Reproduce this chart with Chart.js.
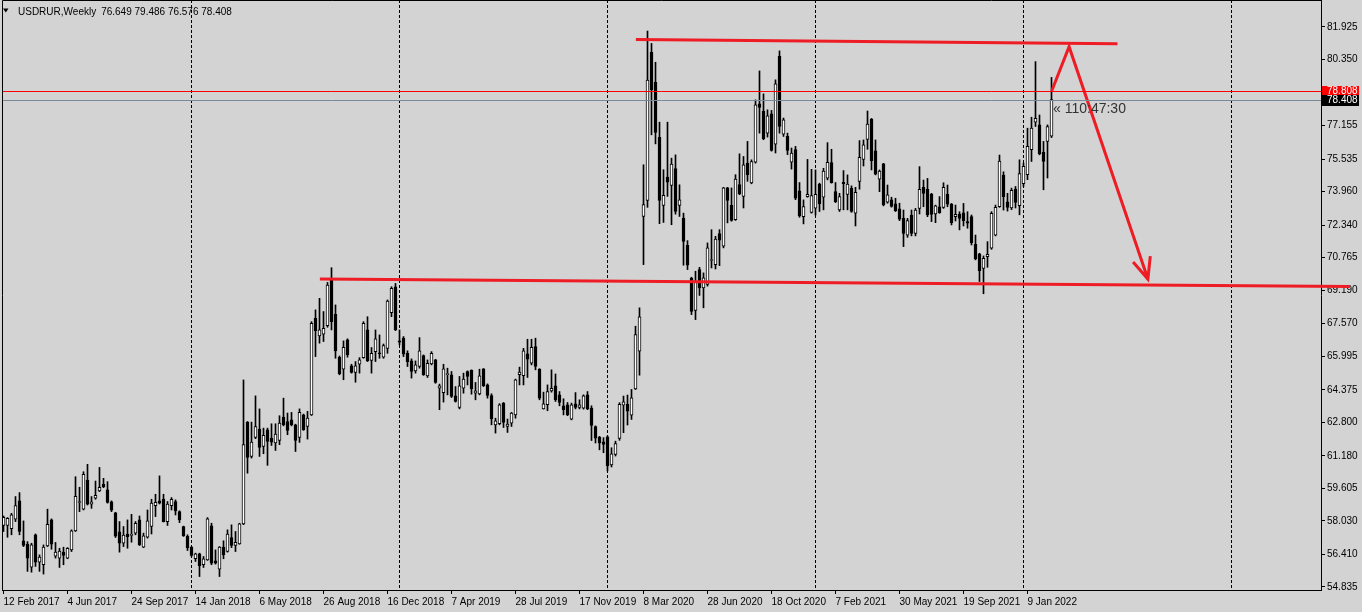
<!DOCTYPE html>
<html>
<head>
<meta charset="utf-8">
<script src="https://cdn.jsdelivr.net/npm/chart.js@4.4.1/dist/chart.umd.min.js"></script>
<style>
  html, body { margin: 0; padding: 0; background: #d3d3d3; }
  #wrap { position: relative; width: 1362px; height: 612px; }
</style>
</head>
<body>
<div id="wrap"><canvas id="chart1"></canvas></div>
<script>
// USDRUR weekly candles, one entry per week starting 12 Feb 2017
var opens = [
  57.81, 57.81, 57.65, 58.11, 59.00, 57.07, 56.91, 55.79, 57.36, 56.04,
  55.91, 56.82, 58.08, 56.33, 56.23, 56.52, 56.23, 56.63, 57.55, 58.92,
  58.60, 60.01, 58.84, 59.13, 59.48, 59.80, 59.53, 58.95, 58.42, 57.50,
  56.95, 57.40, 57.33, 57.44, 58.08, 56.76, 57.24, 57.76, 58.77, 59.00,
  59.09, 58.00, 58.77, 58.97, 58.48, 57.76, 57.28, 56.76, 56.20, 56.44,
  55.91, 56.15, 57.79, 56.10, 55.70, 56.76, 56.55, 57.23, 56.84, 56.92,
  57.89, 62.81, 61.15, 62.07, 62.47, 61.64, 62.44, 62.04, 61.80, 61.93,
  63.05, 62.84, 62.92, 62.68, 62.07, 63.16, 62.60, 63.16, 67.83, 66.98,
  67.06, 67.48, 69.69, 68.03, 65.95, 65.37, 66.79, 65.53, 65.21, 65.61,
  65.93, 67.27, 65.79, 66.22, 66.14, 65.95, 66.38, 68.11, 69.36, 66.74,
  66.87, 66.14, 65.77, 65.29, 65.50, 66.03, 65.05, 65.63, 65.82, 64.45,
  64.24, 65.10, 65.10, 64.08, 63.52, 64.45, 65.26, 65.31, 64.21, 64.18,
  65.39, 64.61, 64.10, 62.68, 62.73, 63.73, 62.60, 62.76, 63.16, 65.10,
  65.06, 66.11, 65.66, 66.46, 65.37, 63.45, 63.65, 64.32, 64.57, 64.13,
  63.60, 63.65, 62.95, 63.70, 63.52, 63.49, 64.13, 63.49, 62.60, 62.09,
  61.86, 62.10, 60.74, 61.25, 62.02, 63.63, 63.67, 63.15, 64.42, 66.24,
  72.76, 73.54, 80.70, 79.25, 76.59, 73.29, 74.66, 74.26, 75.07, 73.29,
  72.68, 71.36, 69.78, 68.22, 70.19, 69.30, 69.47, 70.63, 70.43, 71.93,
  71.32, 74.14, 73.30, 72.61, 74.30, 73.73, 75.34, 74.38, 75.38, 78.21,
  77.84, 76.79, 77.73, 76.26, 80.50, 76.74, 76.63, 75.39, 75.99, 74.00,
  72.75, 73.72, 72.95, 73.16, 74.32, 73.69, 74.61, 75.36, 73.96, 73.08,
  74.41, 73.83, 74.12, 72.92, 74.45, 75.52, 76.49, 77.47, 75.94, 74.56,
  75.30, 73.45, 73.56, 73.37, 73.13, 72.67, 71.86, 72.83, 71.94, 73.15,
  74.17, 74.07, 73.84, 72.88, 73.23, 73.20, 73.84, 73.36, 72.75, 72.88,
  72.94, 72.51, 72.75, 71.41, 70.95, 70.25, 70.82, 71.22, 71.86, 73.23,
  74.76, 73.47, 73.17, 74.08, 73.28, 74.34, 74.78, 75.99, 77.32, 77.19,
  75.86, 76.39, 76.649
];
var highs = [
  58.27, 58.19, 58.40, 59.21, 59.40, 58.03, 57.03, 56.95, 57.40, 56.39,
  56.87, 58.60, 58.13, 56.99, 56.71, 56.76, 56.74, 57.60, 60.17, 59.66,
  60.41, 60.77, 59.21, 59.96, 60.62, 60.09, 59.93, 59.00, 58.45, 58.00,
  57.76, 58.08, 58.35, 58.00, 58.27, 57.44, 58.56, 59.08, 59.32, 60.21,
  59.32, 58.97, 59.16, 59.05, 58.52, 57.78, 57.36, 56.79, 56.47, 56.47,
  56.31, 58.19, 57.92, 56.63, 56.79, 57.07, 57.60, 57.84, 57.52, 57.92,
  64.85, 62.84, 62.81, 64.08, 63.45, 62.52, 62.52, 62.73, 62.73, 63.12,
  63.97, 63.25, 63.28, 62.71, 63.45, 63.20, 63.33, 67.67, 68.24, 68.80,
  68.16, 69.57, 70.28, 68.48, 66.01, 66.74, 66.84, 65.61, 65.74, 65.93,
  67.67, 67.91, 66.42, 67.27, 67.03, 66.59, 68.72, 69.36, 69.52, 67.27,
  66.95, 66.26, 65.87, 65.77, 66.90, 66.06, 65.82, 66.22, 65.85, 64.65,
  65.61, 65.42, 65.26, 64.53, 65.02, 65.18, 65.29, 65.34, 64.73, 65.37,
  65.40, 64.66, 64.18, 63.00, 63.70, 63.76, 62.96, 63.28, 64.89, 65.47,
  66.38, 66.82, 66.82, 66.87, 65.40, 64.26, 64.61, 65.34, 65.14, 64.29,
  63.94, 63.76, 63.73, 64.24, 63.89, 64.13, 64.29, 63.60, 62.63, 62.12,
  62.06, 62.14, 61.57, 61.89, 63.75, 64.07, 64.12, 64.39, 67.45, 68.34,
  75.26, 81.73, 81.13, 80.22, 77.32, 75.02, 77.32, 75.58, 75.74, 74.29,
  72.92, 71.59, 69.82, 70.11, 70.30, 70.03, 71.48, 72.12, 71.80, 72.12,
  74.17, 74.17, 74.14, 74.78, 75.79, 75.66, 76.39, 75.50, 78.40, 79.80,
  78.69, 77.92, 77.89, 79.37, 80.77, 77.52, 76.79, 76.07, 76.15, 74.40,
  73.56, 75.52, 75.04, 75.01, 74.37, 75.09, 76.33, 76.01, 74.40, 73.88,
  74.98, 74.77, 74.24, 74.17, 76.43, 76.46, 77.86, 77.50, 76.46, 75.01,
  75.33, 74.28, 73.69, 73.64, 73.40, 73.07, 72.67, 73.07, 73.15, 75.17,
  74.52, 74.60, 73.88, 73.31, 73.72, 74.39, 74.28, 73.39, 73.31, 72.99,
  73.39, 72.99, 72.83, 71.86, 70.98, 70.85, 71.54, 72.99, 73.31, 75.73,
  74.92, 73.88, 74.13, 74.21, 75.50, 75.34, 77.03, 77.56, 80.25, 77.67,
  76.39, 77.19, 79.486
];
var lows = [
  57.52, 57.24, 57.36, 58.00, 57.36, 56.79, 55.59, 55.55, 55.83, 55.59,
  55.46, 56.79, 56.66, 56.23, 55.78, 55.91, 56.20, 56.55, 57.52, 58.48,
  58.56, 58.80, 58.64, 59.08, 59.45, 59.64, 58.89, 58.48, 57.23, 56.52,
  56.79, 56.71, 57.00, 57.36, 56.84, 56.74, 57.20, 57.40, 58.24, 58.85,
  57.98, 57.81, 58.56, 58.32, 57.95, 57.28, 56.60, 56.31, 56.07, 55.34,
  55.78, 56.12, 55.91, 55.94, 55.34, 56.20, 56.52, 56.74, 56.55, 56.90,
  57.85, 60.34, 61.07, 62.01, 61.15, 61.28, 60.72, 61.68, 61.44, 61.72,
  62.63, 62.20, 62.63, 61.39, 61.83, 62.41, 61.99, 63.13, 65.98, 66.63,
  66.71, 67.40, 67.27, 65.90, 65.10, 64.86, 65.95, 65.18, 64.74, 65.18,
  65.90, 65.74, 65.18, 65.74, 65.90, 65.90, 66.14, 67.91, 67.24, 66.55,
  65.98, 65.50, 64.94, 65.18, 65.42, 65.07, 64.97, 65.58, 64.69, 63.41,
  63.78, 64.13, 64.00, 63.78, 63.45, 64.21, 64.61, 64.16, 63.89, 64.13,
  64.53, 63.97, 62.68, 62.28, 62.68, 62.55, 62.31, 62.60, 63.00, 64.61,
  64.61, 64.97, 65.58, 65.34, 63.89, 63.44, 63.36, 64.26, 63.81, 63.60,
  63.16, 63.12, 62.92, 63.45, 63.45, 63.44, 63.41, 61.92, 61.80, 61.47,
  61.33, 60.45, 60.64, 61.17, 61.93, 62.30, 62.67, 62.94, 64.39, 65.08,
  70.43, 73.20, 76.71, 76.27, 72.41, 72.47, 73.73, 72.36, 72.87, 72.76,
  70.40, 70.19, 68.01, 67.77, 68.94, 68.34, 69.39, 70.27, 70.22, 70.38,
  71.24, 72.45, 72.53, 72.57, 73.81, 73.17, 74.46, 74.34, 75.34, 76.79,
  76.47, 76.60, 75.92, 75.83, 76.79, 76.63, 75.75, 75.05, 73.57, 72.72,
  72.40, 73.69, 72.92, 72.83, 73.00, 73.08, 74.53, 74.37, 73.43, 73.00,
  73.08, 73.08, 72.96, 72.30, 74.08, 75.20, 76.01, 75.01, 74.77, 73.96,
  73.27, 73.40, 73.21, 73.00, 72.56, 71.30, 71.75, 71.82, 71.82, 72.88,
  73.23, 72.75, 72.51, 72.46, 72.91, 73.15, 73.23, 72.35, 72.54, 72.11,
  72.30, 72.19, 71.38, 70.66, 69.61, 69.02, 70.30, 71.17, 71.82, 73.20,
  73.07, 73.02, 73.09, 73.17, 72.84, 74.21, 74.54, 75.42, 77.11, 75.74,
  74.05, 74.62, 76.576
];
var closes = [
  58.21, 58.16, 58.32, 58.77, 57.52, 56.84, 56.23, 56.87, 56.04, 56.28,
  56.76, 57.87, 56.91, 56.52, 56.57, 56.36, 56.71, 57.55, 59.22, 58.94,
  60.29, 58.84, 58.95, 59.27, 59.66, 59.69, 58.93, 58.55, 57.29, 56.95,
  57.34, 57.27, 57.34, 57.92, 56.87, 57.31, 58.03, 58.89, 58.93, 58.89,
  58.00, 58.84, 59.08, 58.52, 58.08, 57.32, 56.74, 56.36, 56.44, 55.87,
  56.20, 58.13, 55.99, 55.99, 56.76, 56.39, 57.40, 56.84, 57.00, 57.89,
  61.72, 61.10, 61.84, 62.60, 61.59, 62.17, 61.88, 61.84, 62.23, 62.76,
  62.68, 62.41, 62.68, 61.93, 63.29, 62.44, 63.00, 67.59, 67.24, 67.27,
  67.35, 69.44, 67.67, 66.26, 65.15, 66.43, 66.06, 65.21, 65.53, 65.82,
  67.59, 65.77, 66.14, 66.84, 66.12, 66.51, 68.67, 69.28, 67.27, 66.68,
  66.10, 65.74, 65.26, 65.58, 66.26, 65.10, 65.66, 66.14, 64.73, 64.57,
  65.39, 65.16, 64.05, 63.81, 64.57, 64.89, 65.02, 64.42, 64.32, 65.05,
  64.57, 64.10, 62.97, 62.87, 63.65, 62.79, 62.71, 63.25, 64.86, 65.23,
  66.26, 65.85, 66.43, 65.50, 63.97, 63.69, 64.29, 64.45, 63.89, 63.76,
  63.41, 63.16, 63.65, 63.52, 63.65, 64.08, 63.45, 62.65, 62.04, 61.80,
  61.73, 60.69, 61.28, 61.77, 63.67, 63.79, 63.34, 63.99, 67.05, 67.90,
  73.33, 79.36, 78.88, 76.82, 73.54, 73.78, 74.42, 75.29, 73.00, 73.57,
  71.55, 70.40, 68.17, 69.59, 69.30, 69.79, 71.24, 70.65, 71.67, 71.61,
  74.14, 73.54, 72.57, 74.57, 73.85, 75.26, 74.78, 75.42, 78.16, 78.03,
  76.52, 77.63, 75.95, 79.17, 77.11, 77.44, 75.95, 75.83, 73.65, 72.79,
  73.24, 73.83, 73.77, 73.83, 73.37, 74.96, 75.38, 74.40, 73.48, 73.72,
  74.35, 74.32, 73.00, 73.93, 75.62, 76.22, 77.23, 75.46, 74.80, 74.96,
  73.32, 73.80, 73.24, 73.03, 72.63, 71.94, 72.56, 71.94, 73.07, 74.07,
  73.88, 72.83, 72.86, 73.27, 72.94, 74.17, 73.35, 72.46, 72.86, 72.67,
  72.56, 72.43, 71.49, 70.71, 70.14, 70.74, 70.93, 72.91, 73.20, 75.44,
  73.72, 73.20, 74.02, 73.44, 74.83, 75.18, 76.15, 77.03, 77.51, 75.79,
  75.42, 77.11, 78.408
];

// time scale labels sit every 16 bars
var dateTickIdx = [0, 16, 32, 48, 64, 80, 96, 112, 128, 144, 160, 176, 192, 208, 224, 240, 256];
var dateLabels = ['12 Feb 2017', '4 Jun 2017', '24 Sep 2017', '14 Jan 2018', '6 May 2018', '26 Aug 2018',
  '16 Dec 2018', '7 Apr 2019', '28 Jul 2019', '17 Nov 2019', '8 Mar 2020', '28 Jun 2020',
  '18 Oct 2020', '7 Feb 2021', '30 May 2021', '19 Sep 2021', '9 Jan 2022'];
var priceTicks = [81.925, 80.350, 77.155, 75.535, 73.960, 72.340, 70.765, 69.190, 67.570,
  65.995, 64.375, 62.800, 61.180, 59.605, 58.030, 56.410, 54.835];
var periodSeps = [47, 99, 151, 203, 255, 307];

// drawn objects: [bar index, price]
var topLine = [[158.1, 81.32], [278.5, 81.11]];
var bottomLine = [[79.1, 69.73], [336.6, 69.37]];
var arrowPath = [[262.05, 78.83], [266.4, 80.97], [286.1, 69.73]];
var arrowHead = [[282.4, 70.56], [286.1, 69.73], [286.7, 70.84]];
var levelPrice = 78.808;
var bidPrice = 78.408;
var symbolName = 'USDRUR,Weekly';
var headerValues = '76.649 79.486 76.576 78.408';
var timerText = '\u00ab 110:47:30';

var bg = '#d3d3d3';
var red = '#ee1c24';
var axisFont = "'Liberation Sans', Arial, sans-serif";

function toXY(pts) {
  return pts.map(function (p) { return { x: p[0], y: p[1] }; });
}

var wickData = opens.map(function (o, i) { return { x: i, y: [lows[i], highs[i]] }; });
var bodyData = opens.map(function (o, i) {
  return { x: i, y: [Math.min(o, closes[i]), Math.max(o, closes[i])] };
});
var bodyColors = opens.map(function (o, i) { return closes[i] >= o ? '#ffffff' : '#000000'; });

var mtDecor = {
  id: 'mtDecor',
  beforeDraw: function (chart) {
    var c = chart.ctx;
    c.save();
    c.fillStyle = bg;
    c.fillRect(0, 0, chart.width, chart.height);
    c.restore();
  },
  beforeDatasetsDraw: function (chart) {
    var c = chart.ctx, a = chart.chartArea, xs = chart.scales.x;
    c.save();
    c.strokeStyle = '#000';
    c.lineWidth = 1;
    c.setLineDash([3, 2]);
    periodSeps.forEach(function (i) {
      var px = Math.floor(xs.getPixelForValue(i)) + 0.5;
      if (px > a.right) return;
      c.beginPath();
      c.moveTo(px, a.top);
      c.lineTo(px, a.bottom);
      c.stroke();
    });
    c.restore();
  },
  afterDatasetsDraw: function (chart) {
    var c = chart.ctx, a = chart.chartArea, ys = chart.scales.y;
    c.save();
    // level line and bid line
    [[levelPrice, '#ff0000'], [bidPrice, '#778899']].forEach(function (l) {
      var py = Math.round(ys.getPixelForValue(l[0])) + 0.5;
      c.strokeStyle = l[1];
      c.lineWidth = 1;
      c.beginPath();
      c.moveTo(a.left, py);
      c.lineTo(a.right, py);
      c.stroke();
    });
    // frame left / top
    c.strokeStyle = '#000';
    c.beginPath();
    c.moveTo(a.left + 0.5, a.bottom);
    c.lineTo(a.left + 0.5, a.top + 0.5);
    c.lineTo(a.right, a.top + 0.5);
    c.stroke();
    // price tags on the scale
    c.font = '10px ' + axisFont;
    c.textBaseline = 'middle';
    c.textAlign = 'left';
    [[levelPrice, '#ff0000'], [bidPrice, '#000000']].forEach(function (t) {
      var py = Math.round(ys.getPixelForValue(t[0]));
      c.fillStyle = t[1];
      c.fillRect(a.right + 1, py - 5, 37, 11);
      c.fillStyle = '#ffffff';
      c.fillText(t[0].toFixed(3), a.right + 6, py + 0.5);
    });
    // header
    c.fillStyle = '#000';
    c.beginPath();
    c.moveTo(3, 8.5);
    c.lineTo(8.5, 8.5);
    c.lineTo(5.75, 12.5);
    c.closePath();
    c.fill();
    c.textBaseline = 'alphabetic';
    c.fillText(symbolName, 18, 15);
    c.fillText(headerValues, 18 + c.measureText(symbolName).width + 5, 15);
    // candle timer
    c.font = "14px 'Liberation Sans', Arial, sans-serif";
    c.fillStyle = '#333333';
    c.fillText(timerText, 1053, 113);
    c.restore();
  }
};

var ctx = document.getElementById('chart1').getContext('2d');
var lineStyle = { type: 'line', borderColor: red, borderWidth: 3, pointRadius: 0, tension: 0, fill: false, clip: false, order: 0 };

var myChart = new Chart(ctx, {
  type: 'bar',
  data: {
    datasets: [
      {
        label: 'body',
        data: bodyData,
        backgroundColor: bodyColors,
        borderColor: '#000000',
        borderWidth: 1,
        borderSkipped: false,
        barThickness: 3,
        minBarLength: 1,
        grouped: false,
        order: 1
      },
      {
        label: 'wick',
        data: wickData,
        backgroundColor: '#000000',
        borderWidth: 0,
        barThickness: 1,
        grouped: false,
        order: 2
      },
      Object.assign({ label: 'top', data: toXY(topLine) }, lineStyle),
      Object.assign({ label: 'bottom', data: toXY(bottomLine) }, lineStyle),
      Object.assign({ label: 'arrow', data: toXY(arrowPath) }, lineStyle),
      Object.assign({ label: 'head', data: toXY(arrowHead) }, lineStyle)
    ]
  },
  options: {
    responsive: true,
    maintainAspectRatio: false,
    animation: false,
    events: [],
    layout: { padding: { left: 2, top: 0, right: 0, bottom: 0 } },
    plugins: {
      legend: { display: false },
      tooltip: { enabled: false }
    },
    scales: {
      x: {
        type: 'linear',
        min: -0.375,
        max: 329.375,
        offset: false,
        afterBuildTicks: function (s) {
          s.ticks = dateTickIdx.map(function (v) { return { value: v }; });
        },
        afterFit: function (s) {
          s.height = 22;
          s.paddingLeft = 0;
          s.paddingRight = 0;
        },
        grid: { drawOnChartArea: false, drawTicks: true, tickLength: 4, color: '#000', offset: false },
        border: { display: true, color: '#000' },
        ticks: {
          autoSkip: false,
          maxRotation: 0,
          align: 'start',
          labelOffset: 0,
          padding: 2,
          color: '#000',
          font: { family: axisFont, size: 10 },
          callback: function (v) { return dateLabels[dateTickIdx.indexOf(v)]; }
        }
      },
      y: {
        type: 'linear',
        position: 'right',
        min: 54.689,
        max: 83.231,
        afterBuildTicks: function (s) {
          s.ticks = priceTicks.map(function (v) { return { value: v }; });
        },
        afterFit: function (s) {
          s.width = 41;
          s.paddingTop = 0;
          s.paddingBottom = 0;
        },
        grid: { drawOnChartArea: false, drawTicks: true, tickLength: 4, color: '#000' },
        border: { display: true, color: '#000' },
        ticks: {
          padding: 2,
          color: '#000',
          font: { family: axisFont, size: 10 },
          callback: function (v) { return v.toFixed(3); }
        }
      }
    }
  },
  plugins: [mtDecor]
});
</script>
</body>
</html>
